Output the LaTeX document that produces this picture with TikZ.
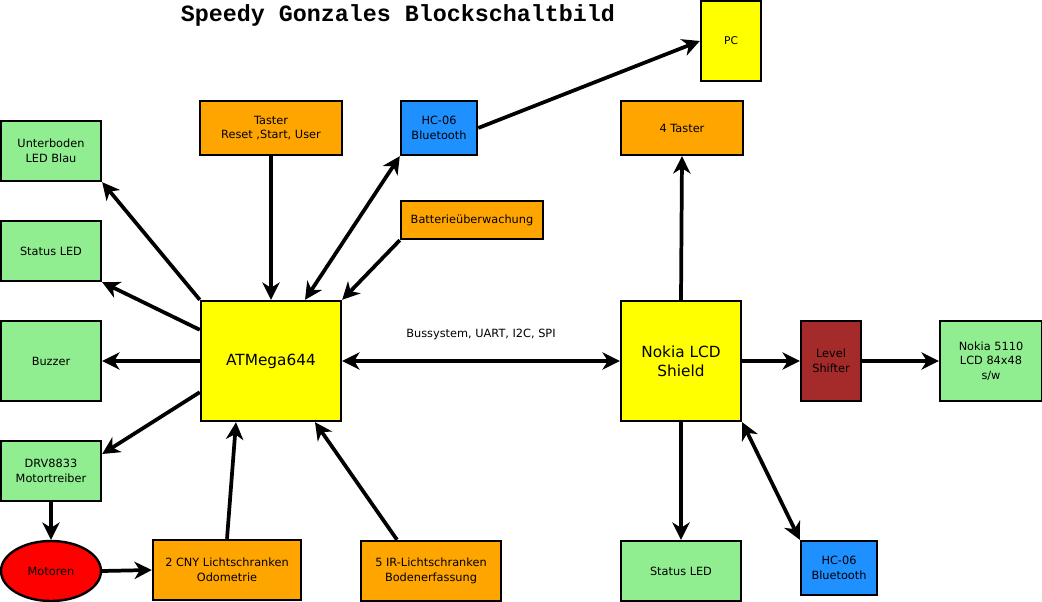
\documentclass[tikz,border=0pt]{standalone}
\usepackage{fontspec}
\setmainfont{DejaVu Sans}
\newfontfamily\titlefont{Liberation Mono}
\usetikzlibrary{arrows.meta,shapes.geometric}

\definecolor{hellgruen}{HTML}{90EE90}
\definecolor{orangeb}{HTML}{FFA500}
\definecolor{gelb}{HTML}{FFFF00}
\definecolor{blaub}{HTML}{1E90FF}
\definecolor{braun}{HTML}{A52A2A}
\definecolor{rotb}{HTML}{FF0000}

\begin{document}
\begin{tikzpicture}[x=0.75pt,y=-0.75pt,
    block/.style 2 args={draw=black,line width=1.8pt,align=center,inner sep=1pt,
        font=\fontsize{8.5}{11}\selectfont,
        minimum width=#1*0.75pt,minimum height=#2*0.75pt},
    pfeil/.style={line width=2.8pt,-{Stealth[length=13pt,width=13pt,inset=4pt]}},
    doppel/.style={line width=2.8pt,{Stealth[length=13pt,width=13pt,inset=4pt]}-{Stealth[length=13pt,width=13pt,inset=4pt]}}]
\useasboundingbox (0,0) rectangle (1042,602);

%titel
\node (titel) at (398,15) {\titlefont\bfseries\fontsize{17.5}{20}\selectfont Speedy Gonzales Blockschaltbild};

%mikrocontroller
\node[block={140}{120},fill=gelb,font=\fontsize{11.5}{14}\selectfont] (atm) at (271,361) {ATMega644};

%linke seite
\node[block={100}{60},fill=hellgruen] (ub) at (51,151) {Unterboden\\ LED Blau};
\node[block={100}{60},fill=hellgruen] (sl) at (51,251) {Status LED};
\node[block={100}{80},fill=hellgruen] (bz) at (51,361) {Buzzer};
\node[block={100}{60},fill=hellgruen] (drv) at (51,471) {DRV8833\\Motortreiber};
\node[draw=black,line width=1.8pt,ellipse,fill=rotb,minimum width=75pt,minimum height=45pt,inner sep=0pt,
    font=\fontsize{8.5}{11}\selectfont] (mot) at (51,571) {Motoren};

%unten
\node[block={148}{60},fill=orangeb] (cny) at (227,570) {2 CNY Lichtschranken\\Odometrie};
\node[block={140}{60},fill=orangeb] (ir) at (431,571) {5 IR-Lichtschranken\\Bodenerfassung};

%oben
\node[block={142}{54},fill=orangeb] (tast) at (271,128) {Taster\\Reset ,Start, User};
\node[block={76}{54},fill=blaub] (bt) at (439,128) {HC-06\\Bluetooth};
\node[block={142}{38},fill=orangeb] (bat) at (472,220) {Batterieüberwachung};
\node[block={60}{80},fill=gelb,font=\fontsize{8}{10}\selectfont] (pc) at (731,41) {PC};

%lcd seite
\node[block={120}{120},fill=gelb,font=\fontsize{11.5}{14}\selectfont] (lcd) at (681,361) {Nokia LCD\\Shield};
\node[block={122}{54},fill=orangeb] (t4) at (682,128) {4 Taster};
\node[block={60}{80},fill=braun] (ls) at (831,361) {Level\\Shifter};
\node[block={102}{80},fill=hellgruen] (n5) at (991,361) {Nokia 5110\\LCD 84x48\\s/w};
\node[block={120}{60},fill=hellgruen] (sl2) at (681,571) {Status LED};
\node[block={76}{54},fill=blaub] (bt2) at (839,568) {HC-06\\Bluetooth};

%verbindungen atmega
\draw[pfeil] (atm.north west) -- (ub.south east);
\draw[pfeil] ([yshift=-22.5pt]atm.north west) -- (sl.south east);
\draw[pfeil] (atm.west) -- (bz.east);
\draw[pfeil] ([yshift=22.5pt]atm.south west) -- ([yshift=12.75pt]drv.east);
\draw[pfeil] (drv.south) -- (mot.north);
\draw[pfeil] (mot.east) -- (cny.west);
\draw[pfeil] (cny.north) -- ([xshift=-26.25pt]atm.south);
\draw[pfeil] ([xshift=-25.5pt]ir.north) -- ([xshift=33pt]atm.south);
\draw[pfeil] (tast.south) -- (atm.north);
\draw[doppel] (bt.south west) -- ([xshift=25.5pt]atm.north);
\draw[pfeil] (bat.south west) -- (atm.north east);
\draw[pfeil] (bt.east) -- (pc.west);
\draw[doppel] (atm.east) -- node[above=11pt,font=\fontsize{8.5}{11}\selectfont] (bus) {Bussystem, UART, I2C, SPI} (lcd.west);

%verbindungen lcd
\draw[pfeil] (lcd.north) -- (t4.south);
\draw[pfeil] (lcd.east) -- (ls.west);
\draw[pfeil] (ls.east) -- (n5.west);
\draw[pfeil] (lcd.south) -- (sl2.north);
\draw[doppel] (lcd.south east) -- (bt2.north west);

\end{tikzpicture}
\end{document}
